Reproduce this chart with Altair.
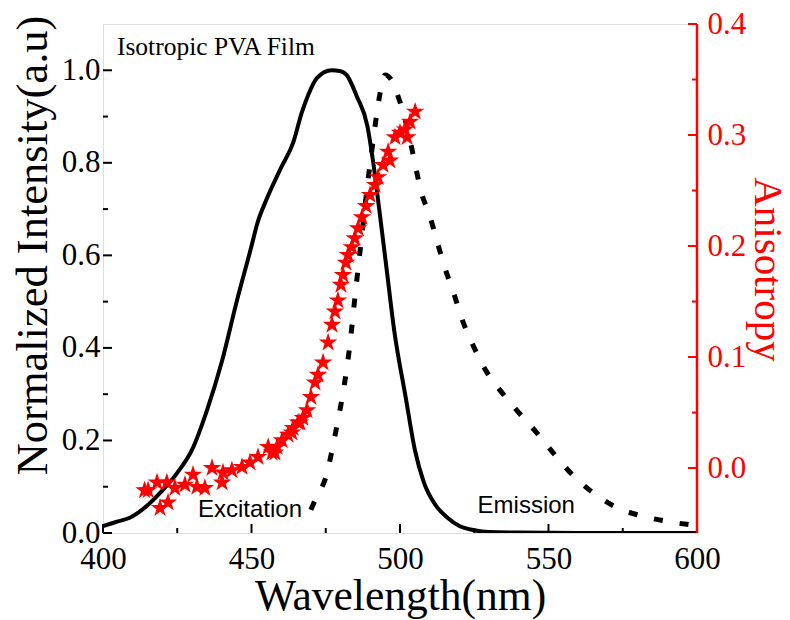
import altair as alt
import pandas as pd

# ---------------- data ----------------
ex_wl = [400, 405, 409, 415, 420, 425, 430, 435, 440, 445, 450, 452, 455, 460, 464, 467, 469, 472,
         477, 480, 482, 485.5, 489, 491, 493, 495.5, 498, 502, 505, 508, 512, 516, 520, 525, 530,
         540, 560, 580, 600]
ex_val = [0.015, 0.025, 0.033, 0.06, 0.092, 0.13, 0.18, 0.265, 0.37, 0.5, 0.62, 0.67, 0.72, 0.79,
          0.843, 0.91, 0.945, 0.983, 1.0, 0.998, 0.99, 0.943, 0.88, 0.80, 0.70, 0.57, 0.44, 0.29,
          0.18, 0.11, 0.06, 0.033, 0.015, 0.006, 0.002, 0.001, 0.0, 0.0, 0.0]

em_wl = [470, 472, 475, 477, 479, 481, 483, 485, 487, 489, 491, 493, 495, 497, 499, 501, 503, 505,
         507, 510, 512.5, 515, 518, 521, 525, 529, 534, 540, 546, 552, 558, 565, 573, 582, 591, 600]
em_val = [0.05, 0.08, 0.12, 0.175, 0.24, 0.31, 0.40, 0.52, 0.635, 0.75, 0.85, 0.94, 0.99, 0.98,
          0.95, 0.91, 0.86, 0.80, 0.74, 0.686, 0.63, 0.575, 0.52, 0.46, 0.40, 0.35, 0.306, 0.26,
          0.217, 0.17, 0.126, 0.087, 0.055, 0.036, 0.024, 0.016]

an_wl = [414.0, 415.2, 418.2, 419.2, 421.5, 421.9, 424.2, 427.6, 430.3, 431.6, 434.3, 436.7, 440.1,
         440.4, 443.4, 446.8, 449.5, 452.2, 455.6, 456.9, 457.9, 458.6, 460.3, 462.3, 463.6, 464.0,
         465.7, 466.3, 467.3, 468.7, 470.0, 471.4, 472.4, 474.1, 475.8, 477.1, 478.1, 479.1, 480.1,
         480.8, 481.8, 482.5, 483.8, 484.8, 485.9, 487.2, 488.6, 489.9, 491.6, 492.6, 494.3, 496.0,
         496.6, 498.3, 500.0, 501.7, 502.4, 503.4, 505.1]
an_val = [-0.020, -0.020, -0.013, -0.036, -0.013, -0.031, -0.018, -0.015, -0.006, -0.017, -0.018,
          0.000, -0.013, -0.004, -0.002, 0.001, 0.005, 0.010, 0.019, 0.014, 0.014, 0.019, 0.025,
          0.030, 0.032, 0.036, 0.041, 0.041, 0.045, 0.052, 0.064, 0.077, 0.084, 0.095, 0.113, 0.129,
          0.141, 0.151, 0.165, 0.174, 0.185, 0.192, 0.199, 0.207, 0.216, 0.226, 0.236, 0.246, 0.255,
          0.262, 0.273, 0.285, 0.277, 0.298, 0.302, 0.305, 0.298, 0.312, 0.321]

x_major = [400, 450, 500, 550, 600]
x_minor = [425, 475, 525, 575]
yl_major = [0.0, 0.2, 0.4, 0.6, 0.8, 1.0]
yl_minor = [0.1, 0.3, 0.5, 0.7, 0.9]
yr_major = [0.0, 0.1, 0.2, 0.3, 0.4]
yr_minor = [0.05, 0.15, 0.25, 0.35]

note_serif_text = ["Isotropic PVA Film"]
note_serif_wl = [404.7]
note_serif_val = [1.033]

note_sans_text = ["Excitation", "Emission"]
note_sans_wl = [449.5, 542.5]
note_sans_val = [0.035, 0.043]

ex_df = pd.DataFrame({"wl": ex_wl, "val": ex_val})
em_df = pd.DataFrame({"wl": em_wl, "val": em_val})
an_df = pd.DataFrame({"wl": an_wl, "val": an_val})
ns_df = pd.DataFrame({"wl": note_serif_wl, "val": note_serif_val, "t": note_serif_text})
nn_df = pd.DataFrame({"wl": note_sans_wl, "val": note_sans_val, "t": note_sans_text})
xM_df = pd.DataFrame({"wl": x_major})
xm_df = pd.DataFrame({"wl": x_minor})
ylM_df = pd.DataFrame({"val": yl_major})
ylm_df = pd.DataFrame({"val": yl_minor})
yrM_df = pd.DataFrame({"val": yr_major})
yrm_df = pd.DataFrame({"val": yr_minor})
one_df = pd.DataFrame({"v": [0]})

SERIF = "Liberation Serif"
SANS = "Liberation Sans"
RED = "#ff0000"
W, H = 594, 509
MAJ, MIN = 9, 5
STAR = ("M0,-1L0.2245,-0.309L0.951,-0.309L0.363,0.118L0.588,0.809L0,0.382"
        "L-0.588,0.809L-0.363,0.118L-0.951,-0.309L-0.2245,-0.309Z")

x_scale = alt.Scale(domain=[400, 600], nice=False, zero=False)
yl_scale = alt.Scale(domain=[0, 1.1], nice=False, zero=False)
yr_scale = alt.Scale(domain=[-0.0585, 0.4], nice=False, zero=False)

x_axis = alt.Axis(orient="bottom", values=x_major, ticks=True, tickSize=0, domain=False,
                  grid=False, labelFont=SERIF, labelFontSize=31, labelColor="black",
                  labelPadding=11, labelFlush=False, format="d",
                  title="Wavelength(nm)", titleFont=SERIF, titleFontSize=43.5,
                  titleFontWeight="normal", titleColor="black", titlePadding=1)
yl_axis = alt.Axis(orient="left", values=yl_major, ticks=True, tickSize=0, domain=False,
                   grid=False, labelFont=SERIF, labelFontSize=31, labelColor="black",
                   labelPadding=3, labelFlush=False, format=".1f",
                   title="Normalized Intensity(a.u)", titleFont=SERIF, titleFontSize=44.5,
                   titleFontWeight="normal", titleColor="black", titlePadding=6, titleY=221)
yr_axis = alt.Axis(orient="right", values=yr_major, ticks=True, tickSize=0, domain=False,
                   grid=False, labelFont=SERIF, labelFontSize=31, labelColor=RED,
                   labelPadding=10, labelFlush=False, format=".1f",
                   title="Anisotropy", titleFont=SERIF, titleFontSize=41,
                   titleFontWeight="normal", titleColor=RED, titleAngle=90,
                   titlePadding=0, titleY=245)

X = alt.X("wl:Q", scale=x_scale, axis=x_axis)
YL = alt.Y("val:Q", scale=yl_scale, axis=yl_axis)
YR = alt.Y("val:Q", scale=yr_scale, axis=yr_axis)

# ----- left-scale group -----
excitation = alt.Chart(ex_df).mark_line(color="black", strokeWidth=4, interpolate="monotone",
                                        clip=True).encode(x=X, y=YL)

emission = alt.Chart(em_df).mark_line(color="black", strokeWidth=5, strokeDash=[9, 17],
                                      strokeCap="butt", interpolate="monotone",
                                      clip=True).encode(x=X, y=YL)

x_major_ticks = alt.Chart(xM_df).mark_rule(color="black", strokeWidth=2).encode(
    x=X, y=alt.value(H), y2=alt.value(H - MAJ),
)
x_minor_ticks = alt.Chart(xm_df).mark_rule(color="black", strokeWidth=2).encode(
    x=X, y=alt.value(H), y2=alt.value(H - MIN),
)
yl_major_ticks = alt.Chart(ylM_df).mark_rule(color="black", strokeWidth=2).encode(
    y=YL, x=alt.value(0), x2=alt.value(MAJ),
)
yl_minor_ticks = alt.Chart(ylm_df).mark_rule(color="black", strokeWidth=2).encode(
    y=YL, x=alt.value(0), x2=alt.value(MIN),
)

serif_note = alt.Chart(ns_df).mark_text(font=SERIF, fontSize=25.5, color="black", align="left",
                                         baseline="alphabetic").encode(x=X, y=YL, text="t:N")

sans_note = alt.Chart(nn_df).mark_text(font=SANS, fontSize=24, color="black", align="center",
                                        baseline="alphabetic").encode(x=X, y=YL, text="t:N")

left = alt.layer(excitation, emission, x_major_ticks, x_minor_ticks, yl_major_ticks,
                 yl_minor_ticks, serif_note, sans_note)

# ----- right-scale group -----
aniso = alt.Chart(an_df).mark_point(shape=STAR, filled=True, color=RED, size=380,
                                    opacity=1, strokeWidth=0).encode(x=X, y=YR)

yr_major_ticks = alt.Chart(yrM_df).mark_rule(color=RED, strokeWidth=2).encode(
    y=YR, x=alt.value(W - MAJ), x2=alt.value(W),
)
yr_minor_ticks = alt.Chart(yrm_df).mark_rule(color=RED, strokeWidth=2).encode(
    y=YR, x=alt.value(W - MIN), x2=alt.value(W),
)

right_edge = alt.Chart(one_df).mark_rule(color=RED, strokeWidth=2.5).encode(
    x=alt.value(W), y=alt.value(0), y2=alt.value(H),
)

right = alt.layer(aniso, yr_major_ticks, yr_minor_ticks, right_edge)

chart = alt.layer(left, right).resolve_scale(
    y="independent"
).properties(
    width=W, height=H,
    padding={"left": 103, "top": 24, "right": 93, "bottom": 87},
    autosize=alt.AutoSizeParams(type="none"),
).configure_view(
    stroke="black", strokeWidth=2
).configure(background="white")

chart.save("out.html", embed_options={"renderer": "svg", "actions": False})
